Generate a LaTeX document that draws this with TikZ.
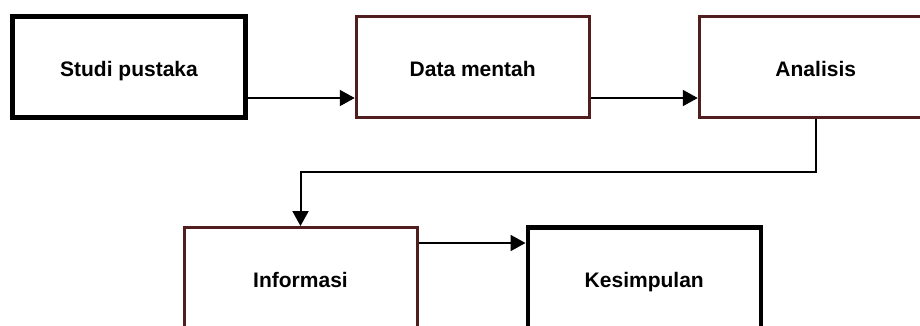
\documentclass[tikz,border=0pt]{standalone}
\usepackage{fontspec}
\setmainfont{Liberation Sans}
\usepackage{tikz}
\usetikzlibrary{positioning,arrows.meta}
\definecolor{maroonline}{RGB}{80,30,30}

\begin{document}
\begin{tikzpicture}[%
  x=1pt,
  y=-1pt,
  >={Triangle[length=15pt,width=16pt]},
  node distance=107pt,
  kotak/.style={
    draw,
    fill=white,
    minimum width=233pt,
    minimum height=101pt,
    text height=19pt,
    text depth=1pt,
    font=\fontsize{21}{24}\selectfont\bfseries,},
  tebal/.style={
    kotak,
    line width=4.5pt,},
  coklat/.style={
    kotak,
    draw=maroonline,
    line width=3pt,},
  pil/.style={
    ->,
    line width=2pt,}
  ]
  \useasboundingbox (0,0) rectangle (920,325);
  \clip (0,0) rectangle (920,325);
  %% Nodes
  \node[tebal] (studi) at (129,67) {Studi pustaka};
  \node[coklat, right = of studi] (data) {Data mentah};
  \node[coklat, right = of data] (analisis) {Analisis};
  \node[coklat] (info) at (300.5,278) {Informasi};
  \node[tebal, right = of info] (simpul) {Kesimpulan};
  %% Edges
  \draw[pil] ([yshift=-31pt]studi.east) -- ([yshift=-31pt]data.west);
  \draw[pil] ([yshift=-31pt]data.east) -- ([yshift=-31pt]analisis.west);
  \draw[pil] (analisis.south) -- ++(0,53) -| (info.north);
  \draw[pil] ([yshift=35pt]info.east) -- ([yshift=35pt]simpul.west);
\end{tikzpicture}
\end{document}
